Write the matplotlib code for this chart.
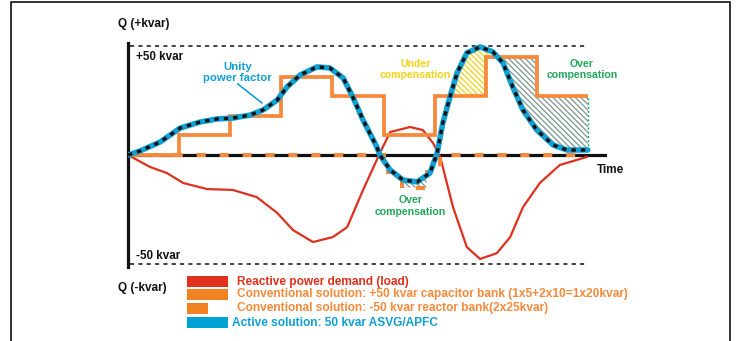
import numpy as np
import matplotlib.pyplot as plt
from matplotlib.patches import Rectangle
from matplotlib.lines import Line2D

plt.rcParams['font.family'] = ['Liberation Sans', 'DejaVu Sans']
plt.rcParams['font.weight'] = 'bold'
plt.rcParams['lines.scale_dashes'] = False
plt.rcParams['hatch.linewidth'] = 0.9

RED = '#e0301e'
ORANGE = '#f7893a'
BLUE = '#10a0d4'
YELLOW = '#f5d410'
GREEN = '#1fa85a'
GREY = '#7d978a'

# time axis: one unit = one switching step
# reactive power demand of the load (kvar)
load_t = [0, 0.43, 0.76, 1.08, 1.55, 2.05, 2.52, 2.92, 3.23, 3.62, 4.01, 4.29, 4.60,
          4.93, 5.13, 5.52, 5.77, 5.97, 6.11, 6.36, 6.63, 6.89, 7.22, 7.48, 7.73,
          8.06, 8.45, 8.98]
load_q = [0, -5.5, -8.3, -12.9, -15.7, -16.1, -19.4, -26.7, -34.6, -40.1, -37.8, -33.2,
          -16.1, 0.9, 10.6, 12.9, 11.5, 5.5, -0.9, -24.0, -42.4, -47.9, -45.2, -37.8,
          -24.0, -12.9, -4.6, -0.9]

# active solution (ASVG/APFC) output, follows the demand
asvg_t = [0, 0.23, 0.63, 1.02, 1.41, 1.74, 2.05, 2.39, 2.64, 2.92, 3.11, 3.37, 3.70,
          3.95, 4.21, 4.40, 4.60, 4.87, 4.93, 5.13, 5.38, 5.66, 5.91, 6.05, 6.16,
          6.30, 6.44, 6.63, 6.89, 7.14, 7.34, 7.53, 7.73, 8.00, 8.32, 8.59, 8.90, 9.0]
asvg_q = [0, 1.8, 6.0, 12.4, 15.2, 16.6, 17.0, 18.4, 20.7, 25.3, 31.3, 36.9, 40.6,
          40.1, 35.5, 26.7, 16.1, 3.7, 0, -6.9, -11.5, -12.4, -8.3, 0.9, 14.7,
          26.7, 37.8, 47.0, 49.8, 47.5, 42.4, 31.3, 20.7, 11.5, 4.6, 2.3, 2.3, 2.3]

# conventional capacitor bank steps
cap_edges = [0, 1, 2, 3, 4, 5, 6, 7, 8, 9]
cap_q = [0, 9, 18, 36, 27, 9, 27, 45, 27]

# conventional reactor bank steps
reac_edges = [0, 5.0, 5.37, 5.85, 6.1, 9.0]
reac_q = [0, -8, -15, -8, 0]

legend_labels = ['Reactive power demand (load)',
                 'Conventional solution: +50 kvar capacitor bank (1x5+2x10=1x20kvar)',
                 'Conventional solution: -50 kvar reactor bank(2x25kvar)',
                 'Active solution: 50 kvar ASVG/APFC']

W, H = 738, 341
fig = plt.figure(figsize=(W / 100, H / 100), dpi=100)

# frame around the figure (open at the bottom)
fig.add_artist(Line2D([11 / W, 11 / W, 730 / W, 730 / W], [0, 1 - 2 / H, 1 - 2 / H, 0],
                      transform=fig.transFigure, color='#222222', lw=1.3))

t_end = (607 - 128) / 51.1
q_lim = 51.6
ax = fig.add_axes([128 / W, 74 / H, (607 - 128) / W, 224 / H])
ax.set_xlim(0, t_end)
ax.set_ylim(-q_lim, q_lim)
for s in ['top', 'right', 'bottom']:
    ax.spines[s].set_visible(False)
ax.spines['left'].set_linewidth(2.3)
ax.spines['left'].set_color('#111111')
ax.set_xticks([])
ax.set_yticks([])
ax.patch.set_alpha(0)

# +/-50 kvar limits
ax.plot([0.04, 9.0], [50, 50], color='#111111', lw=1.1, dashes=(3, 3))
ax.plot([0.04, 9.0], [-50, -50], color='#111111', lw=1.1, dashes=(3, 3))

# hatched compensation errors
tt = np.linspace(0, 9, 1801)
cap_at = np.array(cap_q)[np.clip(np.searchsorted(cap_edges, tt, side='right') - 1, 0, 8)]
asvg_at = np.interp(tt, asvg_t, asvg_q)
reac_at = np.array(reac_q)[np.clip(np.searchsorted(reac_edges, tt, side='right') - 1, 0, 4)]
ax.fill_between(tt, cap_at, asvg_at, where=(tt > 6.0) & (asvg_at > cap_at), facecolor='none',
                edgecolor=YELLOW, hatch='\\\\\\\\\\\\', lw=0)
ax.fill_between(tt, cap_at, asvg_at, where=(tt > 7.0) & (asvg_at < cap_at), facecolor='none',
                edgecolor=GREY, hatch='\\\\\\\\\\\\', lw=0)
ax.plot([9.0, 9.0], [2.3, 27], color=GREEN, lw=1.0, dashes=(1.5, 1.5))
neg = (tt > 5.37) & (tt < 5.85)
ax.fill_between(tt, reac_at, asvg_at, where=neg & (reac_at < asvg_at), facecolor='none',
                edgecolor=GREY, hatch='\\\\\\\\\\\\', lw=0)

# zero line
ax.axhline(0, color='#111111', lw=2.3, zorder=3)

ax.plot(load_t, load_q, color=RED, lw=1.6, zorder=4)
ax.stairs(cap_q, cap_edges, color=ORANGE, lw=2.7, baseline=None, zorder=5)
ax.stairs(reac_q, reac_edges, color=ORANGE, lw=2.9, baseline=None, zorder=5,
          linestyle=(0, (6.5, 10)))
ax.plot(asvg_t, asvg_q, color=BLUE, lw=4.0, zorder=6, solid_capstyle='round')
ax.plot(asvg_t, asvg_q, color='#111111', lw=2.4, dashes=(3.2, 3.6), zorder=7,
        dash_capstyle='butt')

# labels
kw = dict(fontweight='bold', ha='center', va='center', linespacing=1.15)
ax.text(2.15, 38, 'Unity\npower factor', color=BLUE, fontsize=8.2, **kw)
ax.plot([2.15, 2.62], [32.7, 24.0], color=BLUE, lw=1.2)
ax.text(5.62, 39.4, 'Under\ncompensation', color=YELLOW, fontsize=7.6, **kw)
ax.text(8.88, 39.4, 'Over\ncompensation', color=GREEN, fontsize=7.6, **kw)
ax.text(5.52, -23.5, 'Over\ncompensation', color=GREEN, fontsize=7.6, **kw)
ax.text(0.16, 45, '+50 kvar', color='#111111', fontsize=8.4, fontweight='bold',
        ha='left', va='center')
ax.text(0.16, -46.5, '-50 kvar', color='#111111', fontsize=8.4, fontweight='bold',
        ha='left', va='center')
fig.text(118 / W, 1 - 24 / H, 'Q (+kvar)', color='#111111', fontsize=8.5,
         fontweight='bold', ha='left', va='center')
fig.text(118 / W, 1 - 288 / H, 'Q (-kvar)', color='#111111', fontsize=8.5,
         fontweight='bold', ha='left', va='center')
fig.text(597 / W, 1 - 170 / H, 'Time', color='#111111', fontsize=8.5,
         fontweight='bold', ha='left', va='center')

# legend built by hand
sw_colors = [RED, '#f08222', '#f08222', '#00a2d6']
sw_widths = [41, 41, 21, 41]
sw_tops = [276, 289, 303, 317]
txt_colors = [RED, ORANGE, ORANGE, BLUE]
txt_x = [237, 237, 237, 232]
for lab, c, w, top, tc, tx in zip(legend_labels, sw_colors, sw_widths, sw_tops, txt_colors, txt_x):
    fig.add_artist(Rectangle((187 / W, 1 - (top + 11) / H), w / W, 11 / H,
                             transform=fig.transFigure, facecolor=c, edgecolor='none'))
    fig.text(tx / W, 1 - (top + 5.5) / H, lab, color=tc, fontsize=8.6, fontweight='bold',
             ha='left', va='center')

fig.savefig('out.png', dpi=100)
